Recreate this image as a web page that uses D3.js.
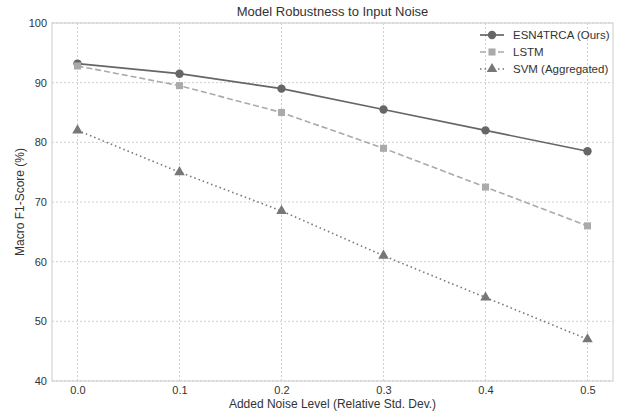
<!DOCTYPE html>
<html>
<head>
<meta charset="utf-8">
<script src="https://cdn.jsdelivr.net/npm/d3@7"></script>
<style>
  body { margin: 0; background: #fff; }
  text { font-family: "Liberation Sans", Arial, sans-serif; fill: #333; }
</style>
</head>
<body>
<div id="chart"></div>
<script>
// data
var noiseLevels = [0.0, 0.1, 0.2, 0.3, 0.4, 0.5];
var esnScores = [93.2, 91.5, 89.0, 85.5, 82.0, 78.5];
var lstmScores = [92.8, 89.5, 85.0, 79.0, 72.5, 66.0];
var svmScores = [82.0, 75.0, 68.5, 61.0, 54.0, 47.0];
var seriesNames = ["ESN4TRCA (Ours)", "LSTM", "SVM (Aggregated)"];
var yTicks = [40, 50, 60, 70, 80, 90, 100];

var margin = { top: 23, right: 9, bottom: 34, left: 52 },
    width = 622 - margin.left - margin.right,
    height = 415 - margin.top - margin.bottom;

var svg = d3.select("#chart")
    .append("svg")
    .attr("width", 622)
    .attr("height", 415);

var g = svg.append("g")
    .attr("transform", "translate(" + margin.left + "," + margin.top + ")");

var x = d3.scaleLinear().domain([-0.025, 0.525]).range([0, width]);
var y = d3.scaleLinear().domain([40, 100]).range([height, 0]);

// grid
g.append("g")
    .selectAll("line")
    .data(noiseLevels)
    .join("line")
    .attr("x1", function (d) { return x(d) })
    .attr("x2", function (d) { return x(d) })
    .attr("y1", 0)
    .attr("y2", height)
    .attr("stroke", "#d0d0d0")
    .attr("stroke-dasharray", "2,2");

g.append("g")
    .selectAll("line")
    .data(yTicks)
    .join("line")
    .attr("x1", 0)
    .attr("x2", width)
    .attr("y1", function (d) { return y(d) })
    .attr("y2", function (d) { return y(d) })
    .attr("stroke", "#d0d0d0")
    .attr("stroke-dasharray", "2,2");

// axes
var xAxis = g.append("g")
    .attr("transform", "translate(0," + height + ")")
    .call(d3.axisBottom(x).tickValues(noiseLevels).tickFormat(d3.format(".1f")).tickSize(0).tickPadding(5));
var yAxis = g.append("g")
    .call(d3.axisLeft(y).tickValues(yTicks).tickSize(0).tickPadding(5));
[xAxis, yAxis].forEach(function (a) {
    a.select(".domain").remove();
    a.selectAll("text").style("font-size", "11px").attr("fill", "#333");
});

// frame
g.append("rect")
    .attr("width", width)
    .attr("height", height)
    .attr("fill", "none")
    .attr("stroke", "#cccccc")
    .attr("stroke-width", 1);

var series = [
    { name: seriesNames[0], values: esnScores, color: "#666666", dash: null, width: 1.7, marker: d3.symbolCircle, size: 55 },
    { name: seriesNames[1], values: lstmScores, color: "#aaaaaa", dash: "6,3", width: 1.6, marker: d3.symbolSquare, size: 50 },
    { name: seriesNames[2], values: svmScores, color: "#777777", dash: "1.5,3", width: 1.6, marker: d3.symbolTriangle, size: 48 }
];

var line = d3.line()
    .x(function (d, i) { return x(noiseLevels[i]) })
    .y(function (d) { return y(d) });

series.forEach(function (s) {
    g.append("path")
        .datum(s.values)
        .attr("d", line)
        .attr("fill", "none")
        .attr("stroke", s.color)
        .attr("stroke-width", s.width)
        .attr("stroke-dasharray", s.dash);

    g.selectAll(null)
        .data(s.values)
        .join("path")
        .attr("transform", function (d, i) { return "translate(" + x(noiseLevels[i]) + "," + y(d) + ")" })
        .attr("d", d3.symbol().type(s.marker).size(s.size))
        .attr("fill", s.color);
});

// legend
var legend = g.append("g").attr("transform", "translate(" + (width - 133) + ",12)");
series.forEach(function (s, i) {
    var row = legend.append("g").attr("transform", "translate(0," + (i * 17) + ")");
    row.append("line")
        .attr("x1", 0).attr("x2", 24)
        .attr("stroke", s.color)
        .attr("stroke-width", s.width)
        .attr("stroke-dasharray", s.dash);
    row.append("path")
        .attr("transform", "translate(12,0)")
        .attr("d", d3.symbol().type(s.marker).size(s.size))
        .attr("fill", s.color);
    row.append("text")
        .attr("x", 33)
        .attr("dy", "0.35em")
        .style("font-size", "11.5px")
        .text(s.name);
});

// titles
svg.append("text")
    .attr("x", margin.left + width / 2)
    .attr("y", 16)
    .attr("text-anchor", "middle")
    .style("font-size", "13px")
    .text("Model Robustness to Input Noise");

svg.append("text")
    .attr("x", margin.left + width / 2)
    .attr("y", 408)
    .attr("text-anchor", "middle")
    .style("font-size", "12px")
    .text("Added Noise Level (Relative Std. Dev.)");

svg.append("text")
    .attr("transform", "translate(24," + (margin.top + height / 2) + ") rotate(-90)")
    .attr("text-anchor", "middle")
    .style("font-size", "12px")
    .text("Macro F1-Score (%)");
</script>
</body>
</html>
